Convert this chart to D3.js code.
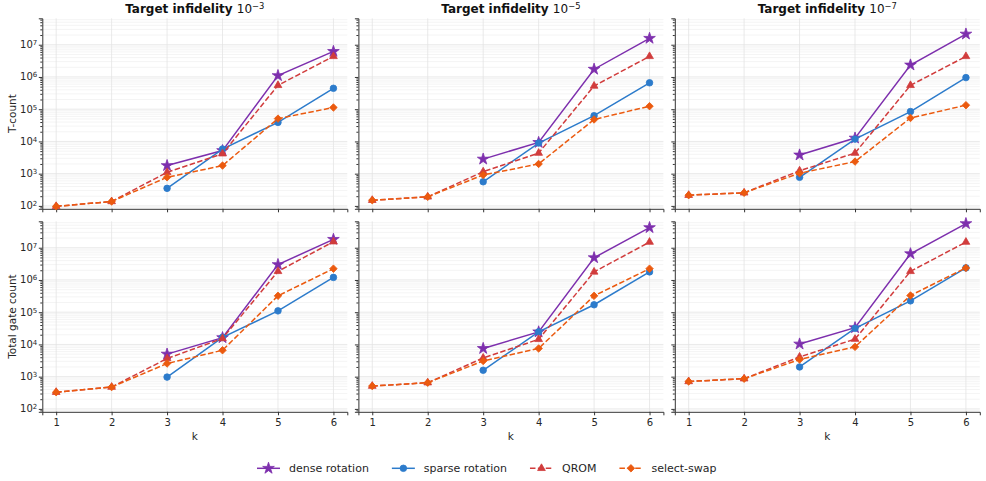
<!DOCTYPE html>
<html>
<head>
<meta charset="utf-8">
<script src="https://cdn.jsdelivr.net/npm/d3@7"></script>
<style>
  body { margin: 0; background: #fff; }
  svg { font-family: "DejaVu Sans", sans-serif; }
</style>
</head>
<body>
<svg id="chart" width="986" height="481"></svg>
<script>
// values (log scale, k = 1..6)
const kValues = [1, 2, 3, 4, 5, 6];
const infidelityExponents = [-3, -5, -7];
const methodNames = ["dense rotation", "sparse rotation", "QROM", "select-swap"];
const rowLabels = ["T-count", "Total gate count"];

// T-count, one row per target infidelity (1e-3, 1e-5, 1e-7)
const tDense = [
  [null, null, 1780, 5200, 1.1e6, 6.2e6],
  [null, null, 2830, 9300, 1.74e6, 1.58e7],
  [null, null, 3800, 12700, 2.35e6, 2.14e7]
];
const tSparse = [
  [null, null, 350, 5800, 39000, 445000],
  [null, null, 560, 8900, 63000, 660000],
  [null, null, 770, 11800, 84500, 955000]
];
const tQrom = [
  [97, 137, 1100, 4150, 550000, 4.35e6],
  [150, 191, 1150, 4350, 525000, 4.35e6],
  [215, 255, 1230, 4350, 550000, 4.35e6]
];
const tSelectSwap = [
  [97, 137, 772, 1780, 51000, 113000],
  [150, 191, 910, 2000, 48000, 124000],
  [215, 255, 1030, 2370, 53500, 133000]
];

// total gate count
const gDense = [
  [null, null, 5000, 16200, 3.0e6, 1.82e7],
  [null, null, 7500, 24500, 4.9e6, 4.2e7],
  [null, null, 10300, 33000, 6.5e6, 5.6e7]
];
const gSparse = [
  [null, null, 970, 16600, 110000, 1.2e6],
  [null, null, 1580, 24500, 170000, 1.78e6],
  [null, null, 2000, 31600, 225000, 2.37e6]
];
const gQrom = [
  [330, 475, 3650, 15300, 1.85e6, 1.54e7],
  [510, 650, 3800, 14400, 1.78e6, 1.5e7],
  [710, 865, 4100, 14600, 1.85e6, 1.5e7]
];
const gSelectSwap = [
  [330, 475, 2560, 6600, 322000, 2.24e6],
  [510, 650, 3070, 7500, 322000, 2.24e6],
  [710, 865, 3400, 8400, 330000, 2.37e6]
];

const rows = [
  [tDense, tSparse, tQrom, tSelectSwap],
  [gDense, gSparse, gQrom, gSelectSwap]
];

const colors = ["#7d2fad", "#2c7bcb", "#d13c3c", "#eb5a0f"];
const dashed = [false, false, true, true];
const symbols = [
  { type: d3.symbolStar, size: 42, rotate: 0 },
  { type: d3.symbolCircle, size: 34, rotate: 0 },
  { type: d3.symbolTriangle, size: 26, rotate: 0 },
  { type: d3.symbolSquare, size: 28, rotate: 45 }
];

const panelX = [42.3, 358.4, 674.8];
const panelY = [18.3, 221.3];
const panelW = 305;
const panelH = 190.5;
const axisColor = "#333";

const svg = d3.select("#chart");

const x = d3.scaleLinear().domain([0.75, 6.25]).range([0, panelW]);
const y = d3.scaleLog().domain([10 ** 1.91, 10 ** 7.82]).range([panelH, 0]);

const majorY = d3.range(2, 8).map(e => 10 ** e);
const minorY = [];
for (let e = 1; e <= 7; e++) {
  for (let m = 2; m <= 9; m++) {
    const v = m * 10 ** e;
    if (v >= y.domain()[0] && v <= y.domain()[1]) minorY.push(v);
  }
}

const supLabel = (sel, exp) => {
  sel.append("tspan").text("10");
  sel.append("tspan").attr("dy", "-0.45em").attr("font-size", "0.7em").text(exp);
};

const symbolPath = (i) => d3.symbol().type(symbols[i].type).size(symbols[i].size)();

rows.forEach((series, r) => {
  infidelityExponents.forEach((exp, c) => {
    const g = svg.append("g").attr("transform", `translate(${panelX[c]},${panelY[r]})`);

    // grid
    g.append("g").selectAll("line").data(minorY).join("line")
      .attr("x1", 0).attr("x2", panelW)
      .attr("y1", d => y(d)).attr("y2", d => y(d))
      .attr("stroke", "#f1f1f1").attr("stroke-width", 0.8);
    g.append("g").selectAll("line").data(majorY).join("line")
      .attr("x1", 0).attr("x2", panelW)
      .attr("y1", d => y(d)).attr("y2", d => y(d))
      .attr("stroke", "#e3e3e3").attr("stroke-width", 0.8);
    g.append("g").selectAll("line").data(kValues).join("line")
      .attr("x1", d => x(d)).attr("x2", d => x(d))
      .attr("y1", 0).attr("y2", panelH)
      .attr("stroke", "#e3e3e3").attr("stroke-width", 0.8);

    // axes
    const yAxis = g.append("g")
      .call(d3.axisLeft(y).tickValues(majorY).tickSize(3.5).tickPadding(2).tickFormat(""));
    yAxis.append("g")
      .call(d3.axisLeft(y).tickValues(minorY).tickSize(2).tickFormat(""))
      .select(".domain").remove();
    yAxis.selectAll("path, line").attr("stroke", axisColor);

    const xAxis = g.append("g").attr("transform", `translate(0,${panelH})`)
      .call(d3.axisBottom(x).tickValues(kValues).tickSize(3.5).tickPadding(4)
        .tickFormat(r === 1 ? d3.format("d") : ""));
    xAxis.selectAll("path, line").attr("stroke", axisColor);
    xAxis.selectAll("text").attr("font-size", 10).attr("fill", "#262626")
      .attr("font-family", "DejaVu Sans");

    if (c === 0) {
      g.append("g").selectAll("text").data(majorY).join("text")
        .attr("x", -5).attr("y", d => y(d) + 3.5)
        .attr("text-anchor", "end").attr("font-size", 10).attr("fill", "#262626")
        .each(function (d) { supLabel(d3.select(this), Math.round(Math.log10(d))); });
      g.append("text")
        .attr("transform", `translate(-26.5,${panelH / 2}) rotate(-90)`)
        .attr("text-anchor", "middle").attr("font-size", 10.5).attr("fill", "#262626")
        .text(rowLabels[r]);
    }

    if (r === 0) {
      const t = g.append("text").attr("x", panelW / 2).attr("y", -5)
        .attr("text-anchor", "middle").attr("font-size", 12).attr("fill", "#111");
      t.append("tspan").attr("font-weight", "bold").text("Target infidelity ");
      t.append("tspan").text("10");
      t.append("tspan").attr("dy", "-0.5em").attr("font-size", "0.7em").text("\u2212" + (-exp));
    } else {
      g.append("text").attr("x", panelW / 2).attr("y", panelH + 28)
        .attr("text-anchor", "middle").attr("font-size", 10.5).attr("fill", "#262626")
        .text("k");
    }

    // series
    series.forEach((data, m) => {
      const pts = kValues.map((k, i) => ({ k, v: data[c][i] })).filter(d => d.v != null);
      const line = d3.line().x(d => x(d.k)).y(d => y(d.v));
      g.append("path").datum(pts)
        .attr("d", line).attr("fill", "none")
        .attr("stroke", colors[m]).attr("stroke-width", 1.5)
        .attr("stroke-dasharray", dashed[m] ? "5.5,2.4" : null);
      g.append("g").selectAll("path").data(pts).join("path")
        .attr("d", symbolPath(m))
        .attr("transform", d => `translate(${x(d.k)},${y(d.v)}) rotate(${symbols[m].rotate})`)
        .attr("fill", colors[m]).attr("stroke", colors[m]).attr("stroke-width", 0.8);
    });
  });
});

// legend
const legend = svg.append("g").attr("transform", "translate(257,468.3)");
let lx = 0;
methodNames.forEach((name, m) => {
  const item = legend.append("g").attr("transform", `translate(${lx},0)`);
  item.append("line").attr("x1", 0).attr("x2", 23).attr("y1", 0).attr("y2", 0)
    .attr("stroke", colors[m]).attr("stroke-width", 1.5)
    .attr("stroke-dasharray", dashed[m] ? "5.5,2.4" : null);
  item.append("path").attr("d", symbolPath(m))
    .attr("transform", `translate(11.5,0) rotate(${symbols[m].rotate})`)
    .attr("fill", colors[m]).attr("stroke", colors[m]).attr("stroke-width", 0.8);
  const txt = item.append("text").attr("x", 32).attr("y", 4)
    .attr("font-size", 11).attr("fill", "#262626").text(name);
  lx += 32 + txt.node().getComputedTextLength() + 23;
});
</script>
</body>
</html>
